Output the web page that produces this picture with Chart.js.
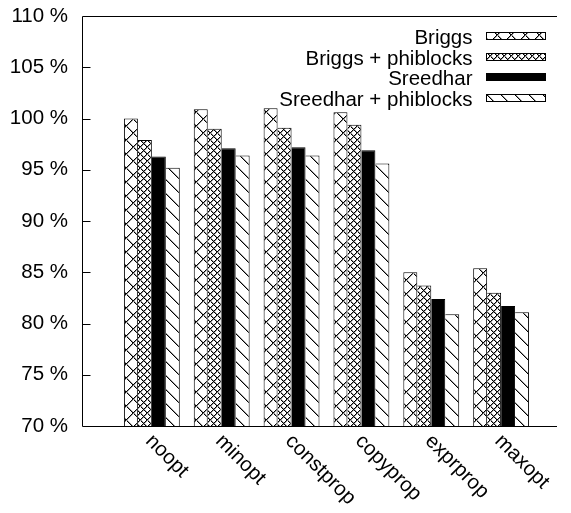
<!DOCTYPE html>
<html>
<head>
<meta charset="utf-8">
<script src="https://cdn.jsdelivr.net/npm/chart.js@4.4.1/dist/chart.umd.min.js"></script>
<style>
  html, body { margin: 0; padding: 0; background: #fff; }
  canvas { display: block; }
</style>
</head>
<body>
<canvas id="chart" width="571" height="513"></canvas>
<script>
// Relative compile time per optimisation level (percent)
const categories = ['noopt', 'minopt', 'constprop', 'copyprop', 'exprprop', 'maxopt'];
const seriesNames = ['Briggs', 'Briggs + phiblocks', 'Sreedhar', 'Sreedhar + phiblocks'];
const briggs      = [100.0, 100.9, 101.0, 100.6, 85.0, 85.4];
const briggsPhi   = [ 97.9,  99.0,  99.1,  99.4, 83.7, 83.0];
const sreedhar    = [ 96.3,  97.1,  97.2,  96.9, 82.4, 81.7];
const sreedharPhi = [ 95.2,  96.4,  96.4,  95.6, 80.9, 81.1];
const yTicks = [70, 75, 80, 85, 90, 95, 100, 105, 110];

const FONT = 'Liberation Sans, Arial, Helvetica, sans-serif';
const FONT_SIZE = 20.5;

// Hatch fills: '\' and '/' diagonals (black core with a soft grey edge) on a white tile
function hatch(period, dirs) {
  const c = document.createElement('canvas');
  c.width = c.height = period;
  const g = c.getContext('2d');
  g.fillStyle = '#fff';
  g.fillRect(0, 0, period, period);
  for (let i = 0; i < period; i++) {
    if (dirs.includes('\\')) {
      g.fillStyle = '#999'; g.fillRect((i + 1) % period, i, 1, 1);
      g.fillStyle = '#000'; g.fillRect(i, i, 1, 1);
    }
    if (dirs.includes('/')) {
      g.fillStyle = '#999'; g.fillRect((period - i) % period, i, 1, 1);
      g.fillStyle = '#000'; g.fillRect(period - 1 - i, i, 1, 1);
    }
  }
  return g.createPattern(c, 'repeat');
}

const fills = [hatch(14, ['\\', '/']), hatch(7, ['\\', '/']), '#000', hatch(14, ['\\'])];
const series = [briggs, briggsPhi, sreedhar, sreedharPhi];

const datasets = series.map((vals, s) => ({
  label: seriesNames[s],
  data: vals.map((v, i) => ({ x: i, y: v })),
  backgroundColor: fills[s],
  borderColor: '#000',
  borderWidth: s === 0 ? { left: 1, top: 1, right: 1, bottom: 0 } : { left: 0, top: 1, right: 1, bottom: 0 },
  categoryPercentage: 0.8,
  barPercentage: 1.0
}));

// Frame, inward ticks, slanted category labels and key
const decorations = {
  id: 'decorations',
  afterDraw(chart) {
    const { ctx, chartArea: a, scales: { x, y } } = chart;
    ctx.save();
    ctx.strokeStyle = '#000';
    ctx.lineWidth = 1;
    ctx.beginPath();
    const L = Math.round(a.left) + 0.5, R = Math.round(a.right);
    const T = Math.round(a.top) + 0.5, B = Math.round(a.bottom) + 0.5;
    ctx.moveTo(R, T); ctx.lineTo(L, T); ctx.lineTo(L, B); ctx.lineTo(R, B);
    yTicks.forEach(v => {
      if (v === y.min || v === y.max) return;
      const py = Math.round(y.getPixelForValue(v)) + 0.5;
      ctx.moveTo(L, py); ctx.lineTo(L + 8, py);
    });
    ctx.stroke();

    ctx.fillStyle = '#000';
    ctx.font = FONT_SIZE + 'px ' + FONT;
    ctx.textAlign = 'left';
    ctx.textBaseline = 'alphabetic';
    categories.forEach((name, i) => {
      const px = x.getPixelForValue(i);
      ctx.save();
      ctx.translate(px - 7, a.bottom + 16);
      ctx.rotate(Math.PI / 4);
      ctx.fillText(name, 0, 0);
      ctx.restore();
    });

    ctx.textAlign = 'right';
    seriesNames.forEach((name, s) => {
      const base = 44.3 + s * 20.4;
      ctx.fillStyle = '#000';
      ctx.fillText(name, 472.5, base);
      const ry = Math.round(base - 12) + 0.5;
      ctx.fillStyle = fills[s];
      ctx.fillRect(486.5, ry, 59, 7);
      ctx.strokeRect(486.5, ry, 59, 7);
    });
    ctx.restore();
  }
};

new Chart(document.getElementById('chart'), {
  type: 'bar',
  data: { datasets },
  options: {
    responsive: false,
    animation: false,
    layout: { padding: { top: 16, right: 14, left: 0, bottom: 0 } },
    plugins: {
      legend: { display: false },
      tooltip: { enabled: false }
    },
    scales: {
      x: {
        type: 'linear',
        min: -1,
        max: 5.8,
        offset: false,
        afterBuildTicks(s) { s.ticks = categories.map((c, i) => ({ value: i })); },
        grid: { display: false, drawTicks: false },
        border: { display: false },
        ticks: { display: false },
        afterFit(s) { s.height = 87; }
      },
      y: {
        min: 70,
        max: 110,
        afterBuildTicks(s) { s.ticks = yTicks.map(v => ({ value: v })); },
        grid: { display: false, drawTicks: true, tickLength: 14 },
        border: { display: false },
        ticks: {
          color: '#000',
          padding: 0,
          font: { family: FONT, size: FONT_SIZE },
          callback: v => v + ' %'
        },
        afterFit(s) { s.width = 82; }
      }
    }
  },
  plugins: [decorations]
});
</script>
</body>
</html>
